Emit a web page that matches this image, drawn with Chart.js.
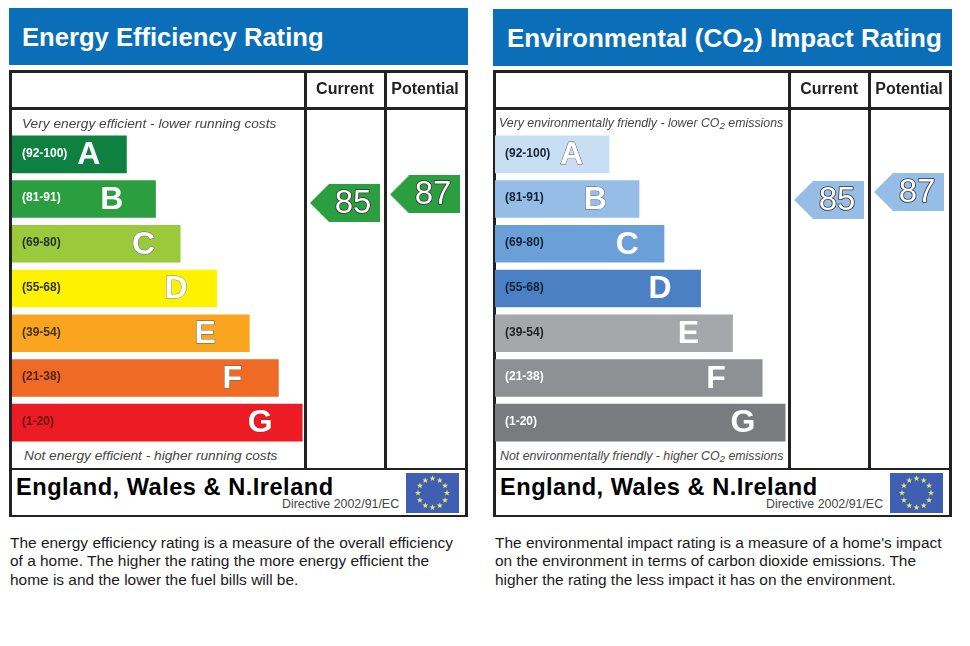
<!DOCTYPE html>
<html><head><meta charset="utf-8">
<script src="https://cdn.jsdelivr.net/npm/chart.js@4"></script>
<style>
html,body{margin:0;padding:0;background:#fff;width:970px;height:646px;overflow:hidden;font-family:"Liberation Sans",Arial,sans-serif}
.a{position:absolute;white-space:nowrap}
.head{background:#0b6eb8;color:#fff;font-weight:bold;font-size:25.6px;line-height:58px;height:57px;box-sizing:border-box}
.ln{background:#222;position:absolute}
.note{font-style:italic;font-size:13.7px;color:#444;line-height:16px}
.note sub,.head sub{font-size:.8em;line-height:0;vertical-align:-.25em}
.foot{font-weight:bold;font-size:23.6px;color:#000;line-height:28px;letter-spacing:.5px}
.dir{font-size:12.4px;color:#444;line-height:14px}
.para{font-size:15.45px;color:#1a1a1a;line-height:18.4px;white-space:pre}
canvas{position:absolute}
</style></head><body>
<script>
const bandLetters = ['A','B','C','D','E','F','G'];
const bandRanges = ['(92-100)','(81-91)','(69-80)','(55-68)','(39-54)','(21-38)','(1-20)'];
const energyLengths = [39.5,49.5,58,70.6,81.8,91.8,100];
const impactLengths = [39.4,49.7,58.3,70.9,81.9,92.1,100];
const energyColors = ['#0e8140','#2b9e3f','#9aca3c','#fff200','#f9a51f','#ef6a25','#ed1c24'];
const impactColors = ['#c8dff3','#95bde6','#6a9fd8','#4c80c4','#a5a7aa','#8f9094','#7a7b7f'];
const energyRangeInk = ['#fff','#fff','#233','#332','#432','#522','#611'];
const impactRangeInk = ['#123','#123','#123','#123','#222','#fff','#fff'];
const energyLetterEdge = ['rgba(0,0,0,0)','rgba(0,0,0,0)','#667','#886','#654','#666','#a22'];
const impactLetterEdge = ['#667','#667','rgba(0,0,0,0)','rgba(0,0,0,0)','rgba(0,0,0,0)','rgba(0,0,0,0)','rgba(0,0,0,0)'];
const columns = ['Current','Potential'];
const energyRatings = [85,87];
const impactRatings = [85,87];
const letterInsets = [38,44,37,41,44.5,46.5,42.5];

function pointerImage(color){
  const c=document.createElement('canvas'); c.width=70; c.height=38;
  const g=c.getContext('2d'); g.fillStyle=color;
  g.beginPath(); g.moveTo(0,19); g.lineTo(19,0); g.lineTo(70,0); g.lineTo(70,38); g.lineTo(19,38); g.closePath(); g.fill();
  return c;
}

const labelPlugin = {
  id:'labels',
  afterDatasetsDraw(chart){
    const g=chart.ctx, bars=chart.getDatasetMeta(0).data, o=chart.$ink;
    g.save(); g.textBaseline='middle'; g.lineJoin='round';
    bars.forEach((b,i)=>{
      g.textAlign='left'; g.font='bold 12px "Liberation Sans"'; g.fillStyle=o.rangeInk[i];
      g.fillText(bandRanges[i],chart.chartArea.left+10,b.y-1);
      g.textAlign='center'; g.font='bold 32px "Liberation Sans"';
      g.lineWidth=1; g.strokeStyle=o.letterEdge[i]; g.fillStyle='#fff';
      g.strokeText(bandLetters[i],b.x-letterInsets[i],b.y+1);
      g.fillText(bandLetters[i],b.x-letterInsets[i],b.y+1);
    });
    g.font='33px "Liberation Sans"'; g.textAlign='center'; g.lineWidth=1.6; g.strokeStyle='#333'; g.fillStyle='#fff';
    chart.getDatasetMeta(1).data.forEach((p,i)=>{
      const t=String(chart.data.datasets[1].data[i].y);
      g.strokeText(t,p.x+8,p.y+1); g.fillText(t,p.x+8,p.y+1);
    });
    g.restore();
  }
};

function drawChart(id,lengths,colors,ratings,rMin,rMax,arrow,rangeInk,letterEdge,xMax,colMin){
  const canvas=document.getElementById(id);
  new Chart(canvas,{
    plugins:[{id:'ink',beforeInit(c){c.$ink={rangeInk,letterEdge}}},labelPlugin],
    data:{labels:bandLetters,datasets:[
      {type:'bar',data:lengths,backgroundColor:colors,grouped:false,barPercentage:0.84,categoryPercentage:1,xAxisID:'x',yAxisID:'y',borderWidth:0},
      {type:'scatter',indexAxis:'x',data:ratings.map((r,i)=>({x:i,y:r})),xAxisID:'xr',yAxisID:'yr',
       pointStyle:pointerImage(arrow),clip:false,pointRadius:19}
    ]},
    options:{
      indexAxis:'y',responsive:false,animation:false,events:[],
      layout:{padding:0,autoPadding:false},
      plugins:{legend:{display:false},title:{display:false},tooltip:{enabled:false}},
      scales:{
        x:{type:'linear',position:'bottom',min:0,max:xMax,display:false,grid:{display:false}},
        xr:{type:'linear',position:'top',min:colMin,max:1.5,offset:false,
           afterBuildTicks(s){s.ticks=columns.map((_,i)=>({value:i}))},
           afterFit(s){s.height=60;s.paddingLeft=0;s.paddingRight=0},
           ticks:{callback:v=>columns[v],font:{family:'"Liberation Sans"',weight:'bold',size:16},color:'#222',padding:33,autoSkip:false,maxRotation:0},
           grid:{display:false,drawTicks:false},border:{display:false}},
        y:{type:'category',position:'left',labels:bandLetters,display:false,grid:{display:false}},
        yr:{type:'linear',position:'right',min:rMin,max:rMax,display:false,grid:{display:false}}
      }
    }
  });
}

function stars(w,h){
  let s='';
  for(let i=0;i<12;i++){
    const a=i*Math.PI/6, cx=w/2+Math.sin(a)*14.5, cy=h/2-Math.cos(a)*14.5;
    let p=[];
    for(let k=0;k<10;k++){const r=k%2?1.3:3.2,b=k*Math.PI/5;p.push((cx+Math.sin(b)*r).toFixed(1)+','+(cy-Math.cos(b)*r).toFixed(1));}
    s+=`<polygon points="${p.join(' ')}" fill="#e9e36a"/>`;
  }
  return `<svg width="${w}" height="${h}" style="display:block;background:#3f5fb2">${s}</svg>`;
}

function panel(o){
  const L=o.x, R=o.x+458, d=document.createElement('div');
  const ln=(x,y,w,h)=>`<div class="ln" style="left:${x}px;top:${y}px;width:${w}px;height:${h}px"></div>`;
  d.innerHTML=
   `<div class="a head" style="left:${L}px;top:${o.headTop}px;width:459px;padding-left:${o.titleX-L}px;${o.hs||''}">${o.title}</div>`+
   ln(L,70,458,2.5)+ln(L,107,458,2.5)+ln(L,467.5,458,2.5)+ln(L,514.5,458,2.5)+
   ln(L,70,2.5,447)+ln(R-2,70,2.5,447)+ln(o.col1-1,70,2.5,398)+ln(o.col2-1,70,2.5,398)+
   `<canvas id="${o.id}" width="${o.cw}" height="373" style="left:${o.cx}px;top:72px;width:${o.cw}px;height:373px"></canvas>`+
   `<div class="a note" style="left:${o.topX}px;top:${o.topY}px;${o.ts||''}">${o.top}</div>`+
   `<div class="a note" style="left:${o.botX}px;top:448px;${o.ts||''}">${o.bot}</div>`+
   `<div class="a foot" style="left:${L+7}px;top:473px">England, Wales &amp; N.Ireland</div>`+
   `<div class="a dir" style="left:${L+273}px;top:497px">Directive 2002/91/EC</div>`+
   `<div class="a" style="left:${L+397}px;top:473px">${stars(53,40)}</div>`+
   `<div class="a para" style="left:${o.paraX}px;top:534px">${o.para}</div>`;
  document.body.appendChild(d);
}

panel({id:'c1',x:9,headTop:8,titleX:22,title:'Energy Efficiency Rating',col1:305,col2:385,cx:12,cw:453,
  top:'Very energy efficient - lower running costs',topX:22,topY:116,
  bot:'Not energy efficient - higher running costs',botX:24,paraX:10,
  para:'The energy efficiency rating is a measure of the overall efficiency\nof a home. The higher the rating the more energy efficient the\nhome is and the lower the fuel bills will be.'});
panel({id:'c2',x:493,headTop:9,titleX:507,hs:'font-size:26px;',title:'Environmental (CO<sub>2</sub>) Impact Rating',col1:789,col2:869,cx:495,cw:454,ts:'font-size:12.35px;',
  top:'Very environmentally friendly - lower CO<sub>2</sub> emissions',topX:499,topY:115,
  bot:'Not environmentally friendly - higher CO<sub>2</sub> emissions',botX:500,paraX:495,
  para:"The environmental impact rating is a measure of a home's impact\non the environment in terms of carbon dioxide emissions. The\nhigher the rating the less impact it has on the environment."});

drawChart('c1',energyLengths,energyColors,energyRatings,28.1,101.66,'#2b9e3f',energyRangeInk,energyLetterEdge,155.9,-4.1625);
drawChart('c2',impactLengths,impactColors,impactRatings,23.8,101.95,'#95bde6',impactRangeInk,impactLetterEdge,156.3,-4.18);
</script>
</body></html>
